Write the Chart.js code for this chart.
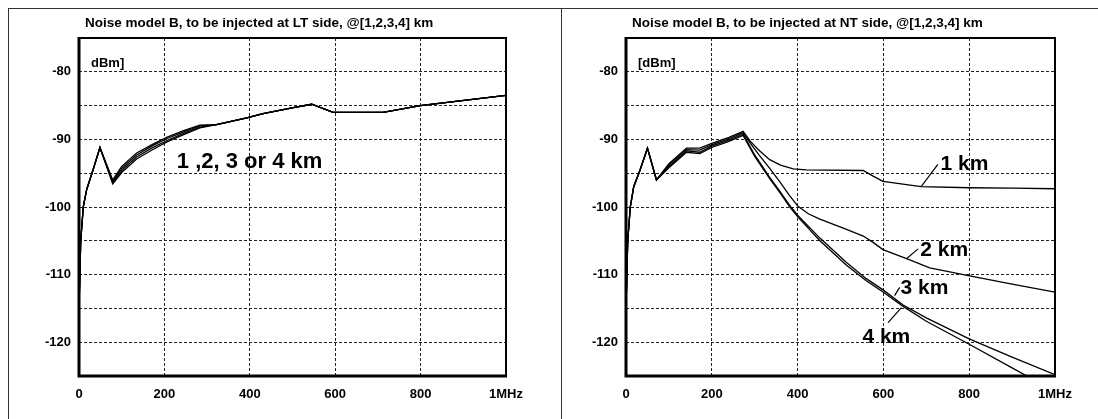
<!DOCTYPE html>
<html lang="en">
<head>
<meta charset="UTF-8">
<title>Noise model B</title>
<script src="https://cdn.jsdelivr.net/npm/chart.js"></script>
<style>
  body { margin:0; background:#fff; width:1098px; height:419px; overflow:hidden; position:relative; }
  .frame { position:absolute; top:8px; height:430px; border-top:1px solid #333; border-left:1px solid #333; }
  #f1 { left:8px; width:560px; }
  #f2 { left:561px; width:560px; }
  canvas { position:absolute; top:9px; }
  #chartLT { left:9px; }
  #chartNT { left:562px; }
</style>
</head>
<body>
<div class="frame" id="f1"></div>
<div class="frame" id="f2"></div>
<canvas id="chartLT" width="552" height="410"></canvas>
<canvas id="chartNT" width="536" height="410"></canvas>
<script>
// ---- data (kHz, dBm) ----
// LT side: four almost identical curves
var ltFreq = [0, 4, 10, 18, 33, 49, 79, 100, 135, 170, 205, 245, 283, 322, 393, 431, 502, 545, 595, 650, 712, 799, 1000];
var ltKm1 = [-115, -105, -100, -97.4, -94.5, -91.2, -96.0, -94.0, -92.0, -90.8, -89.7, -88.7, -87.9, -87.8, -86.8, -86.2, -85.3, -84.8, -86.0, -86.0, -86.0, -85.0, -83.5];
var ltKm2 = [-115, -105, -100, -97.4, -94.5, -91.2, -96.2, -94.3, -92.3, -91.0, -89.9, -88.9, -88.0, -87.8, -86.8, -86.2, -85.3, -84.8, -86.0, -86.0, -86.0, -85.0, -83.5];
var ltKm3 = [-115, -105, -100, -97.4, -94.5, -91.2, -96.4, -94.6, -92.6, -91.3, -90.2, -89.1, -88.2, -87.8, -86.8, -86.2, -85.3, -84.8, -86.0, -86.0, -86.0, -85.0, -83.5];
var ltKm4 = [-115, -105, -100, -97.4, -94.5, -91.2, -96.6, -94.9, -92.9, -91.6, -90.4, -89.3, -88.3, -87.8, -86.8, -86.2, -85.3, -84.8, -86.0, -86.0, -86.0, -85.0, -83.5];

// NT side: curves split after ~275 kHz
var ntFreq1 = [0, 4, 10, 18, 33, 50, 71, 100, 141, 172, 200, 240, 273, 290, 310, 335, 360, 390, 420, 553, 575, 599, 688, 800, 901, 1000];
var ntKm1 = [-115, -105, -100, -97, -94.5, -91.3, -96.0, -93.6, -91.3, -91.3, -90.6, -89.7, -88.8, -90.3, -91.6, -93.0, -93.8, -94.35, -94.5, -94.6, -95.4, -96.2, -97.0, -97.15, -97.2, -97.3];
var ntFreq2 = [0, 4, 10, 18, 33, 50, 71, 100, 141, 172, 200, 240, 273, 290, 310, 335, 360, 380, 401, 425, 452, 514, 553, 575, 599, 657, 708, 801, 900, 1000];
var ntKm2 = [-115, -105, -100, -97, -94.5, -91.3, -96.0, -93.8, -91.5, -91.6, -90.8, -89.9, -89.0, -90.6, -92.3, -94.3, -96.4, -98.2, -99.9, -101.0, -101.8, -103.3, -104.3, -105.2, -106.3, -107.7, -109.0, -110.2, -111.4, -112.6];
var ntFreq34 = [0, 4, 10, 18, 33, 50, 71, 100, 141, 172, 200, 240, 273, 300, 335, 360, 382, 400, 452, 514, 560, 600, 646, 700, 800, 900, 1000];
var ntKm3 = [-115, -105, -100, -97, -94.5, -91.3, -96.0, -94.0, -91.7, -91.9, -91.0, -90.1, -89.2, -92.3, -95.6, -97.8, -99.8, -101.2, -104.6, -108.2, -110.6, -112.3, -114.5, -116.4, -119.5, -122.2, -124.8];
var ntKm4 = [-115, -105, -100, -97, -94.5, -91.3, -96.0, -94.2, -91.9, -92.1, -91.2, -90.3, -89.4, -92.5, -95.8, -98.0, -100.0, -101.4, -105.0, -108.6, -110.9, -112.6, -114.7, -116.9, -120.3, -123.8, -127.3];

var xTicks = [0, 200, 400, 600, 800, 1000];
var FONT = '"Liberation Sans", Arial, sans-serif';

function pts(xs, ys) {
  return xs.map(function (x, i) { return { x: x, y: ys[i] }; });
}

function line(xs, ys) {
  return { data: pts(xs, ys), borderColor: '#000', borderWidth: 1.3, pointRadius: 0, tension: 0, fill: false };
}

// draws frame, title, unit and the km notes
var overlay = {
  id: 'overlay',
  afterDraw: function (chart, args, o) {
    var ctx = chart.ctx, a = chart.chartArea;
    var sx = chart.scales.x, sy = chart.scales.y;
    ctx.save();
    ctx.strokeStyle = '#000';
    ctx.lineWidth = 2;
    ctx.strokeRect(a.left, a.top, a.right - a.left, a.bottom - a.top);
    ctx.lineWidth = 3;
    ctx.beginPath();
    ctx.moveTo(a.left, a.top - 1);
    ctx.lineTo(a.left, a.bottom);
    ctx.lineTo(a.right + 1, a.bottom);
    ctx.stroke();

    ctx.fillStyle = '#000';
    ctx.textBaseline = 'middle';
    ctx.textAlign = 'left';
    ctx.font = 'bold 13.5px ' + FONT;
    ctx.fillText(o.title, a.left + 6, 14);
    ctx.font = 'bold 13px ' + FONT;
    ctx.fillText(o.unit, a.left + 12, 54);

    ctx.lineWidth = 1.2;
    (o.leaders || []).forEach(function (l) {
      ctx.beginPath();
      ctx.moveTo(sx.getPixelForValue(l[0]), sy.getPixelForValue(l[1]));
      ctx.lineTo(sx.getPixelForValue(l[2]), sy.getPixelForValue(l[3]));
      ctx.stroke();
    });
    (o.notes || []).forEach(function (n) {
      ctx.font = 'bold ' + n.size + 'px ' + FONT;
      ctx.fillText(n.text, sx.getPixelForValue(n.x), sy.getPixelForValue(n.y));
    });
    ctx.restore();
  }
};

function makeChart(id, datasets, axisW, padRight, ov) {
  return new Chart(document.getElementById(id), {
    type: 'line',
    data: { datasets: datasets },
    plugins: [overlay],
    options: {
      responsive: false,
      animation: false,
      layout: { padding: { left: 0, top: 29, right: padRight, bottom: 0 } },
      plugins: { legend: { display: false }, tooltip: { enabled: false }, overlay: ov },
      scales: {
        x: {
          type: 'linear', min: 0, max: 1000,
          afterBuildTicks: function (s) { s.ticks = xTicks.map(function (v) { return { value: v }; }); },
          afterFit: function (s) { s.height = 43; },
          ticks: {
            autoSkip: false, maxRotation: 0, padding: 11, color: '#000',
            font: { family: FONT, size: 13, weight: 'bold' },
            callback: function (v) { return v === 1000 ? '1MHz' : v; }
          },
          grid: { color: '#222', lineWidth: 1, drawTicks: false },
          border: { display: false, dash: [3, 2] }
        },
        y: {
          min: -125, max: -75,
          afterFit: function (s) { s.width = axisW; },
          ticks: {
            stepSize: 5, autoSkip: false, padding: 8, color: '#000',
            font: { family: FONT, size: 13, weight: 'bold' },
            callback: function (v) { return (v % 10 === 0) ? v : ''; }
          },
          grid: { color: '#222', lineWidth: 1, drawTicks: false },
          border: { display: false, dash: [3, 2] }
        }
      }
    }
  });
}

makeChart('chartLT', [
  line(ltFreq, ltKm1), line(ltFreq, ltKm2), line(ltFreq, ltKm3), line(ltFreq, ltKm4)
], 70, 55, {
  title: 'Noise model B, to be injected at LT side, @[1,2,3,4] km',
  unit: 'dBm]',
  notes: [{ text: '1 ,2, 3 or 4 km', x: 229, y: -93.3, size: 22 }]
});

makeChart('chartNT', [
  line(ntFreq1, ntKm1), line(ntFreq2, ntKm2), line(ntFreq34, ntKm3), line(ntFreq34, ntKm4)
], 64, 43, {
  title: 'Noise model B, to be injected at NT side, @[1,2,3,4] km',
  unit: '[dBm]',
  notes: [
    { text: '1 km', x: 733, y: -93.6, size: 21 },
    { text: '2 km', x: 686, y: -106.4, size: 21 },
    { text: '3 km', x: 640, y: -112.0, size: 21 },
    { text: '4 km', x: 551, y: -119.2, size: 21 }
  ],
  leaders: [
    [727, -93.7, 688, -97.0],
    [681, -106.2, 653, -107.7],
    [638, -111.9, 626, -113.1],
    [611, -117.1, 642, -114.9]
  ]
});
</script>
</body>
</html>
